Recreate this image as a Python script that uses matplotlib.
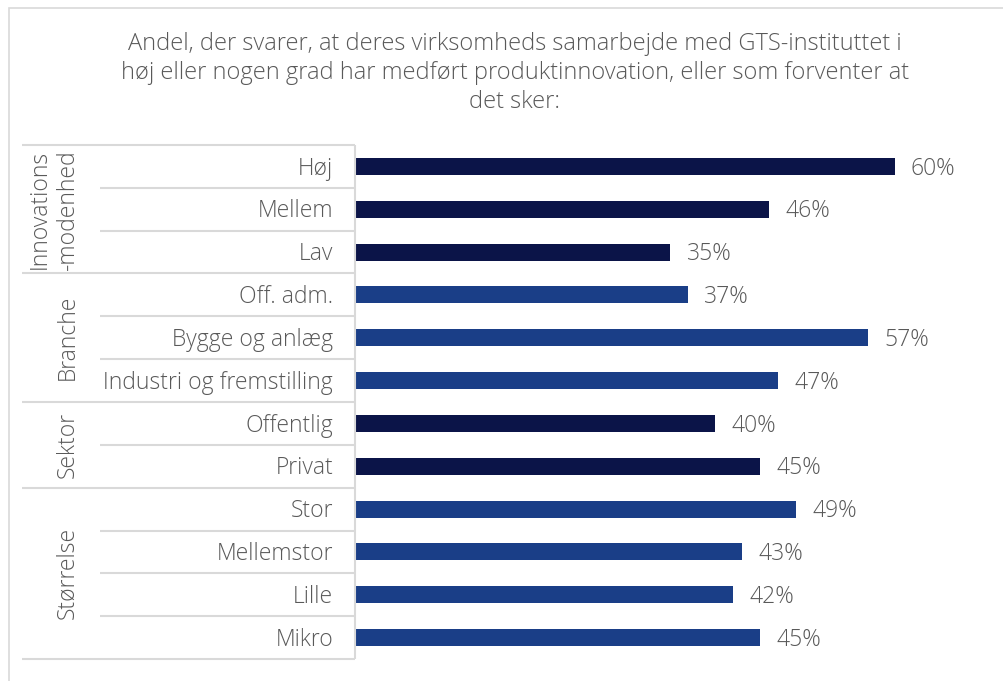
import matplotlib
matplotlib.use("Agg")
import matplotlib.pyplot as plt
from matplotlib.patches import Rectangle

plt.rcParams["font.family"] = ["Open Sans", "DejaVu Sans"]
plt.rcParams["font.weight"] = "light"

# data
groups = ["Innovations\n-modenhed", "Branche", "Sektor", "Størrelse"]
group_rows = [
    ["Høj", "Mellem", "Lav"],
    ["Off. adm.", "Bygge og anlæg", "Industri og fremstilling"],
    ["Offentlig", "Privat"],
    ["Stor", "Mellemstor", "Lille", "Mikro"],
]
group_values = [
    [60, 46, 35],
    [37, 57, 47],
    [40, 45],
    [49, 43, 42, 45],
]
group_colors = ["#0b1448", "#1a3e87", "#0b1448", "#1a3e87"]

title = ("Andel, der svarer, at deres virksomheds samarbejde med GTS-instituttet i\n"
         "høj eller nogen grad har medført produktinnovation, eller som forventer at\n"
         "det sker:")

W, H = 1004, 681
txt = "#595959"
grid = "#d9d9d9"
fs = 16.5

fig = plt.figure(figsize=(W / 100, H / 100), dpi=100)

# outer chart frame
fig.add_artist(Rectangle((9 / W, -0.01), 1.0, 1 - 8 / H + 0.01, transform=fig.transFigure,
                         fill=False, edgecolor="#d9d9d9", linewidth=1.2))
fig.text(5 / W, 1 + 16 / H, "somhedskarakteristika", fontsize=16, color="#222222",
         ha="left", va="top")

fig.text(515 / W, 1 - 32 / H, title, ha="center", va="top", fontsize=17,
         color=txt, linespacing=1.27)

# bar axes
ax = fig.add_axes([356 / W, 1 - 659 / H, 648 / W, 514 / H])
labels, values, colors = [], [], []
for rows, vals, c in zip(group_rows, group_values, group_colors):
    labels += rows
    values += vals
    colors += [c] * len(rows)
n = len(labels)
ypos = list(range(n))
ax.barh(ypos, values, height=0.4, color=colors)
for y, v in zip(ypos, values):
    ax.text(v + 1.8, y + 0.05, f"{v}%", va="center", ha="left", fontsize=fs, color=txt)
ax.set_xlim(0, 648 / 8.98)
ax.set_ylim(n - 0.5, -0.5)
ax.axis("off")

# table to the left of the bars
px = lambda x: (x - 356) / 8.98  # figure pixel -> data x
kw = dict(color=grid, linewidth=1.5, clip_on=False, solid_capstyle="butt")
ax.plot([px(355), px(355)], [-0.5, n - 0.5], **kw)
start = 0
for g, rows in zip(groups, group_rows):
    end = start + len(rows)
    ax.plot([px(22), px(355)], [start - 0.5, start - 0.5], **kw)
    for k in range(start + 1, end):
        ax.plot([px(100), px(355)], [k - 0.5, k - 0.5], **kw)
    for k in range(start, end):
        ax.text(px(333), k + 0.05, labels[k], ha="right", va="center", fontsize=fs, color=txt)
    ax.text(px(68) if "\n" not in g else px(54), (start + end - 1) / 2, g, rotation=90,
            ha="center", va="center", fontsize=fs, color=txt, linespacing=1.2)
    start = end
ax.plot([px(22), px(355)], [n - 0.5, n - 0.5], **kw)

fig.savefig("out.png", dpi=100)
plt.close(fig)
